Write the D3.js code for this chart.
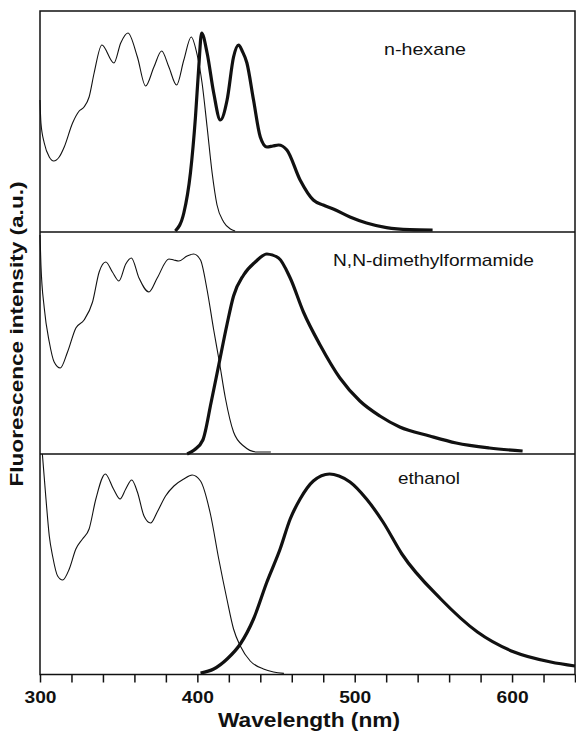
<!DOCTYPE html>
<html>
<head>
<meta charset="utf-8">
<script src="https://cdn.jsdelivr.net/npm/d3@7"></script>
<style>
  html, body { margin: 0; padding: 0; background: #fff; }
  svg { display: block; }
  text { font-family: "Liberation Sans", Arial, Helvetica, sans-serif; fill: #111; }
</style>
</head>
<body>
<svg id="chart" width="576" height="735"></svg>
<script>
// ---------- data (wavelength nm, normalized intensity) ----------
const panelNames = ["n-hexane", "N,N-dimethylformamide", "ethanol"];

const hexAbs = [[300,0.655],[300.6,0.54],[302.7,0.44],[305.9,0.37],[308.7,0.35],[312.2,0.37],[315.4,0.42],[320.7,0.54],[324.9,0.60],[328,0.62],[331.2,0.67],[334.4,0.79],[339.3,0.93],[347,0.84],[351.3,0.94],[355.9,0.99],[361.9,0.87],[367.1,0.725],[372.4,0.82],[377.3,0.90],[381.9,0.82],[386.8,0.73],[391.4,0.855],[396.1,0.97],[399.9,0.88],[403,0.74],[406.2,0.52],[409.4,0.29],[412.5,0.13],[416.7,0.045],[421,0.01],[424,0]];
const hexEm = [[386,0],[391.4,0.09],[395.6,0.29],[398.8,0.57],[400.9,0.82],[402.7,0.99],[406.2,0.89],[410.4,0.69],[414.6,0.555],[418.9,0.655],[423,0.87],[426.2,0.93],[428.5,0.9],[431.5,0.84],[435.7,0.655],[440,0.47],[444.2,0.42],[448,0.425],[451.6,0.43],[456.9,0.405],[465.3,0.255],[473.7,0.155],[480,0.13],[486.4,0.11],[497,0.07],[507.5,0.04],[520.2,0.017],[535,0.007],[549.5,0.005]];

const dmfAbs = [[300,1.095],[300.6,0.945],[302.7,0.73],[305.9,0.56],[309,0.46],[312.9,0.43],[317.5,0.51],[322.8,0.63],[328,0.67],[333.4,0.76],[337.6,0.91],[341.8,0.96],[346,0.91],[350.2,0.865],[354.5,0.95],[358.1,0.98],[362.9,0.88],[369.2,0.81],[374.5,0.88],[381.9,0.975],[385,0.97],[388.2,0.965],[393.5,0.99],[397.7,1.0],[402,0.97],[406.2,0.82],[410.4,0.62],[414,0.46],[417.8,0.28],[423,0.11],[429.4,0.04],[437.9,0.01],[446.7,0.01]];
const dmfEm = [[393.5,0],[398,0.02],[403.5,0.07],[408.8,0.26],[413.6,0.445],[418.9,0.65],[423,0.79],[429.4,0.895],[436.8,0.96],[444.2,1.0],[451.6,0.98],[459,0.88],[467.4,0.71],[478,0.545],[490.6,0.38],[503.3,0.265],[516,0.19],[528.6,0.135],[547.6,0.09],[564.5,0.055],[585.6,0.03],[606.7,0.015]];

const etAbs = [[301.5,1.1],[303.8,0.875],[305.9,0.69],[308,0.59],[311.2,0.49],[314.4,0.47],[318.6,0.525],[322.8,0.625],[327,0.675],[331.2,0.725],[335.5,0.875],[341.5,1.0],[346.7,0.925],[350.9,0.875],[354.5,0.925],[358.3,0.97],[361.9,0.91],[366.1,0.79],[370.3,0.755],[374.5,0.81],[379.8,0.89],[385.1,0.94],[391.4,0.975],[396.7,0.995],[402,0.965],[408.3,0.80],[413.6,0.575],[418.9,0.37],[423,0.225],[427.3,0.14],[433.6,0.065],[442,0.025],[448.4,0.01],[455,0.003]];
const etEm = [[402,0.005],[410.4,0.025],[418.9,0.075],[427.3,0.15],[435.7,0.275],[444.2,0.46],[452.6,0.625],[459,0.775],[465.3,0.875],[473.7,0.965],[484,1.0],[490,0.99],[497,0.96],[507.5,0.875],[518,0.76],[530,0.60],[554.7,0.375],[578,0.21],[601.3,0.11],[624.6,0.06],[640,0.04]];

const xTicks = [300,320,340,360,380,400,420,440,460,480,500,520,540,560,580,600,620,640];
const xTickLabels = {300:"300", 400:"400", 500:"500", 600:"600"};
const xTitle = "Wavelength (nm)";
const yTitle = "Fluorescence intensity (a.u.)";

// ---------- layout ----------
const svg = d3.select("#chart");
const plotLeft = 40, plotRight = 575, plotTop = 11, plotBottom = 674.5;
const x = d3.scaleLinear().domain([300, 640]).range([plotLeft, plotRight]);

const panels = [
  {name: panelNames[0], y0: 11,  y1: 231, abs: hexAbs, em: hexEm, lx: 384, ly: 55,  lw: 82},
  {name: panelNames[1], y0: 232, y1: 454, abs: dmfAbs, em: dmfEm, lx: 333, ly: 266, lw: 201},
  {name: panelNames[2], y0: 454, y1: 674, abs: etAbs,  em: etEm,  lx: 398, ly: 484, lw: 62}
];

panels.forEach(p => {
  const y = d3.scaleLinear().domain([0, 1.1]).range([p.y1, p.y1 - 220]);
  const line = d3.line().x(d => x(d[0])).y(d => y(d[1])).curve(d3.curveMonotoneX);
  svg.append("path").datum(p.abs).attr("d", line)
    .attr("fill", "none").attr("stroke", "#111").attr("stroke-width", 1.1);
  svg.append("path").datum(p.em).attr("d", line)
    .attr("fill", "none").attr("stroke", "#111").attr("stroke-width", 3.2)
    .attr("stroke-linejoin", "round").attr("stroke-linecap", "butt");
  svg.append("text").attr("x", p.lx).attr("y", p.ly)
    .attr("font-size", 17).attr("textLength", p.lw).attr("lengthAdjust", "spacingAndGlyphs")
    .text(p.name);
});

// frame and dividers
const frame = svg.append("g").attr("stroke", "#111").attr("stroke-width", 1.5).attr("fill", "none");
frame.append("rect").attr("x", plotLeft).attr("y", plotTop).attr("width", plotRight - plotLeft).attr("height", plotBottom - plotTop);
[232, 454].forEach(yy => frame.append("line").attr("x1", plotLeft).attr("x2", plotRight).attr("y1", yy).attr("y2", yy));

// x axis
const axis = d3.axisBottom(x).tickValues(xTicks).tickSize(8).tickPadding(9)
  .tickFormat(d => xTickLabels[d] || "");
const ax = svg.append("g").attr("transform", `translate(0,${plotBottom})`).call(axis);
ax.select(".domain").remove();
ax.selectAll(".tick line").attr("stroke", "#111").attr("stroke-width", 1.5);
ax.selectAll(".tick text")
  .attr("font-family", "Liberation Sans, Arial, sans-serif")
  .attr("font-size", 16).attr("font-weight", "bold").attr("fill", "#111")
  .each(function(d) { if (xTickLabels[d]) d3.select(this).attr("textLength", 32).attr("lengthAdjust", "spacingAndGlyphs"); });

// titles
svg.append("text").attr("x", 309).attr("y", 727).attr("text-anchor", "middle")
  .attr("font-size", 20).attr("font-weight", "bold")
  .attr("textLength", 182).attr("lengthAdjust", "spacingAndGlyphs").text(xTitle);
svg.append("text").attr("transform", "translate(23,334) rotate(-90)").attr("text-anchor", "middle")
  .attr("font-size", 19).attr("font-weight", "bold")
  .attr("textLength", 305).attr("lengthAdjust", "spacingAndGlyphs").text(yTitle);
</script>
</body>
</html>
